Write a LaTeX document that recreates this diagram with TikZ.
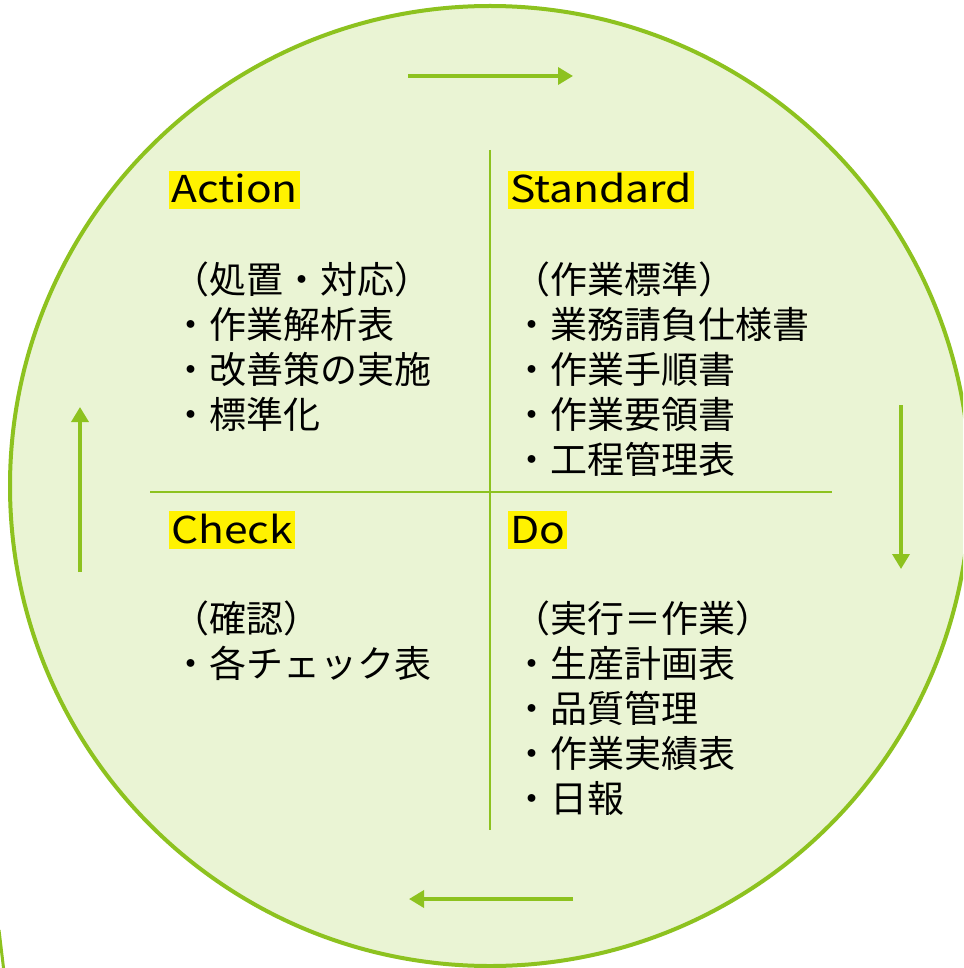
\documentclass[tikz,border=0pt]{standalone}
\usepackage{graphicx}
\usepackage{fontspec}
\setmainfont{Noto Sans CJK JP}
\usetikzlibrary{arrows.meta}
\definecolor{cfill}{HTML}{EAF4D4}
\definecolor{cline}{HTML}{8DC21F}
\newcommand{\widehead}[1]{\scalebox{1.15}[1]{#1}}
\tikzset{
  big/.style={font=\fontsize{37}{45}\selectfont},
  head/.style={big, fill=yellow, inner ysep=0pt, inner xsep=2pt, text height=32pt, text depth=6pt, anchor=base west},
  body/.style={big, inner sep=0pt, anchor=base west},
  cross/.style={draw=cline, line width=2.5pt},
  cyc/.style={draw=cline, line width=3.5pt, -{Triangle[length=15pt,width=17pt]}},
}
\begin{document}
\begin{tikzpicture}[x=1pt,y=-1pt]
\useasboundingbox (0,0) rectangle (963,968);
\clip (0,0) rectangle (963,968);
\fill[white] (0,0) rectangle (963,968);
% big circle
\draw[fill=cfill, draw=cline, line width=4pt] (490,486) circle (480);
% small edge of a neighbouring shape
\draw[cline, line width=3pt] (-1,930) -- (4,972);
% cross
\coordinate (vt) at (490,150);
\coordinate (vb) at (490,830);
\coordinate (hl) at (150,492);
\coordinate (hr) at (832,492);
\draw[cross] (vt) -- (vb);
\draw[cross] (hl) -- (hr);
% cycle arrows
\coordinate (t1) at (408,76);  \coordinate (t2) at (573,76);
\coordinate (r1) at (901,405); \coordinate (r2) at (901,569);
\coordinate (b1) at (573,899); \coordinate (b2) at (409,899);
\coordinate (l1) at (80,572);  \coordinate (l2) at (80,407);
\draw[cyc] (t1) -- (t2);
\draw[cyc] (r1) -- (r2);
\draw[cyc] (b1) -- (b2);
\draw[cyc] (l1) -- (l2);
% headers
\node[head] (action) at (169,203) {\widehead{Action}};
\node[head] (standard) at (508,203) {\widehead{Standard}};
\node[head] (check) at (169,543) {\widehead{Check}};
\node[head] (do) at (508,543) {\widehead{Do}};
% Action body
\node[body] (a0) at (172,293) {（処置・対応）};
\node[body] (a1) at (172,338) {・作業解析表};
\node[body] (a2) at (172,383) {・改善策の実施};
\node[body] (a3) at (172,428) {・標準化};
% Standard body
\node[body] (s0) at (513,293) {（作業標準）};
\node[body] (s1) at (513,338) {・業務請負仕様書};
\node[body] (s2) at (513,383) {・作業手順書};
\node[body] (s3) at (513,428) {・作業要領書};
\node[body] (s4) at (513,473) {・工程管理表};
% Check body
\node[body] (c0) at (172,632) {（確認）};
\node[body] (c1) at (172,677) {・各チェック表};
% Do body
\node[body] (d0) at (513,632) {（実行＝作業）};
\node[body] (d1) at (513,677) {・生産計画表};
\node[body] (d2) at (513,722) {・品質管理};
\node[body] (d3) at (513,767) {・作業実績表};
\node[body] (d4) at (513,812) {・日報};
\end{tikzpicture}
\end{document}
